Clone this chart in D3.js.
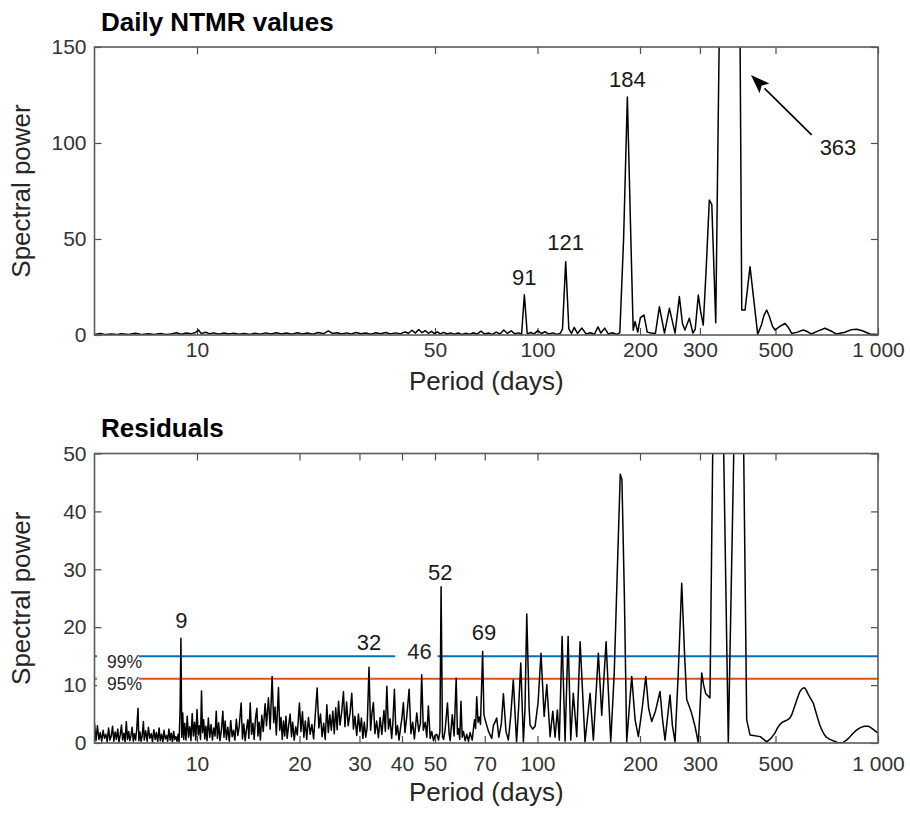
<!DOCTYPE html>
<html>
<head>
<meta charset="utf-8">
<script src="https://cdn.jsdelivr.net/npm/d3@7"></script>
<style>
body { margin: 0; background: #fff; }
text { font-family: "Liberation Sans", Arial, Helvetica, sans-serif; }
</style>
</head>
<body>
<div id="vis"></div>
<script>
// period ticks and power ticks
const dailyTicks = [10, 50, 100, 200, 300, 500, 1000];
const residualTicks = [10, 20, 30, 40, 50, 70, 100, 200, 300, 500, 1000];
const dailyPowerTicks = [0, 50, 100, 150];
const residualPowerTicks = [0, 10, 20, 30, 40, 50];

// [period (days), spectral power]
const dailySeries = [
  [5,0.3],[5.2,0.8],[5.4,0.2],[5.6,0.5],[5.8,0.2],[6.0,0.7],[6.3,0.3],[6.6,0.9],[6.9,0.2],[7.2,0.6],
  [7.5,0.3],[7.8,0.8],[8.1,0.3],[8.4,0.5],[8.7,1.2],[9.0,0.4],[9.3,1.0],[9.6,0.6],[9.9,1.3],[10.1,2.6],
  [10.3,0.7],[10.6,1.4],[10.9,0.6],[11.2,1.1],[11.6,0.4],[12.0,1.0],[12.4,0.5],[12.8,0.9],[13.3,0.4],[13.8,0.8],
  [14.3,0.3],[14.8,0.9],[15.3,0.4],[15.9,1.1],[16.5,0.5],[17.1,1.2],[17.7,0.5],[18.3,1.0],[19.0,0.4],[19.7,1.2],
  [20.4,0.5],[21.1,1.0],[21.9,0.4],[22.7,1.3],[23.5,0.6],[24.3,2.1],[25.0,0.8],[25.8,1.2],[26.6,0.5],[27.5,1.1],
  [28.4,0.5],[29.3,1.3],[30.3,0.6],[31.3,1.0],[32.4,0.4],[33.5,1.2],[34.6,0.6],[35.8,1.3],[37.0,0.5],[38.2,1.1],
  [39.5,0.6],[40.8,1.6],[41.8,0.9],[42.8,2.5],[43.8,1.0],[44.8,2.9],[45.8,1.2],[46.8,2.3],[47.8,0.9],[48.8,1.9],
  [49.8,0.7],[50.8,1.6],[51.8,0.6],[53.0,1.4],[54.3,0.5],[55.6,1.1],[57.0,0.4],[58.5,1.0],[60.0,0.3],[61.6,0.9],
  [63.2,0.3],[64.8,1.2],[66.5,0.4],[68.2,2.0],[70.0,0.5],[71.8,1.0],[73.7,0.3],[75.6,1.5],[77.6,0.5],[79.6,2.6],
  [81.6,0.8],[83.7,2.2],[85.8,0.6],[88.0,1.1],[89.8,0.4],[91.5,21.0],[93.3,0.5],[95.5,1.3],[97.8,0.6],[100.2,2.3],
  [102.6,0.8],[105.2,1.7],[108.0,0.5],[111.0,1.1],[114.0,0.3],[116.6,0.9],[118.4,3.0],[121.0,38.2],[123.6,3.2],[125.8,0.8],
  [128.2,4.0],[131.0,0.8],[135.0,3.6],[139.0,0.5],[143.0,1.2],[147.0,0.4],[150.5,4.2],[153.5,1.0],[157.5,3.6],[161.5,0.5],
  [166.0,1.2],[171.0,0.3],[174.5,1.2],[179.0,50],[183.6,124],[188.0,50],[191.0,2.5],[193.4,7.0],[197.0,1.5],[200.5,9.0],
  [205.5,10.4],[210.0,1.5],[215.5,1.0],[222.0,0.8],[228.0,14.7],[236.0,1.0],[244.0,13.9],[253.5,1.0],[261.0,20.0],[266.5,6.0],
  [271.0,2.6],[279.2,8.7],[286.0,1.0],[290.5,3.0],[296.7,20.8],[301.5,12.0],[306.8,5.2],[313.0,35.0],[319.6,70.3],[325.0,68.0],
  [333.8,6.4],[342.0,160],[352.0,400],[363.0,560],[378.0,400],[393.3,160],[398.0,13.0],[406.9,13.0],[420.9,35.6],[443.3,0.3],
  [455.0,5.5],[463.0,10.5],[471.2,13.0],[480.0,9.5],[490.0,4.5],[498.3,2.6],[515.0,4.5],[533.3,6.0],[545.0,4.0],[558.0,0.8],
  [580.0,1.5],[603.3,2.6],[620.0,1.8],[638.0,0.5],[665.0,2.0],[698.8,3.5],[725.0,2.2],[756.0,0.5],[800.0,1.4],[835.0,2.8],
  [866.0,3.0],[900.0,2.2],[947.1,0.5],[1000,0.3]
];

const residualSeries = [
  [5.0,3.4],[5.05,0.4],[5.1,3.0],[5.15,0.6],[5.2,1.8],[5.25,0.3],[5.3,2.2],[5.35,0.8],[5.4,1.5],[5.45,0.2],
  [5.5,2.6],[5.55,0.5],[5.6,1.2],[5.65,2.9],[5.7,0.3],[5.75,1.9],[5.8,0.6],[5.85,2.4],[5.9,0.2],[5.95,1.4],
  [6.0,3.1],[6.05,0.5],[6.1,1.7],[6.15,0.2],[6.2,3.7],[6.25,0.6],[6.3,2.0],[6.35,0.4],[6.4,1.3],[6.45,2.7],
  [6.5,0.3],[6.55,1.6],[6.6,0.5],[6.65,2.2],[6.71,6.0],[6.75,0.4],[6.8,1.9],[6.85,0.3],[6.9,1.2],[6.96,3.7],
  [7.0,0.5],[7.07,2.1],[7.14,0.3],[7.2,2.7],[7.27,0.8],[7.34,1.6],[7.4,0.2],[7.47,2.3],[7.54,0.6],[7.6,1.8],
  [7.67,0.3],[7.74,2.6],[7.8,0.4],[7.87,1.5],[7.94,0.2],[8.0,2.2],[8.07,0.7],[8.14,1.3],[8.2,0.3],[8.27,2.4],
  [8.34,0.5],[8.4,1.7],[8.47,0.2],[8.54,2.0],[8.6,0.6],[8.67,1.1],[8.74,0.3],[8.8,1.5],[8.86,0.2],[8.92,6.0],
  [8.97,18.1],[9.02,1.0],[9.08,5.2],[9.14,0.6],[9.2,3.4],[9.28,0.5],[9.36,4.6],[9.44,1.0],[9.52,2.8],[9.6,0.4],
  [9.68,5.1],[9.76,1.2],[9.84,3.6],[9.92,0.5],[10.0,5.8],[10.08,1.4],[10.16,3.0],[10.24,0.6],[10.31,9.0],[10.38,1.8],
  [10.46,4.0],[10.54,0.7],[10.62,2.9],[10.7,0.4],[10.8,4.3],[10.9,1.0],[11.0,3.2],[11.1,0.5],[11.2,2.6],[11.3,1.2],
  [11.39,5.5],[11.48,0.8],[11.58,3.5],[11.68,0.4],[11.8,2.4],[11.91,5.5],[12.0,1.0],[12.1,3.8],[12.2,0.6],[12.32,2.7],
  [12.44,0.3],[12.56,3.9],[12.68,1.1],[12.8,2.2],[12.92,0.5],[13.05,4.1],[13.18,1.3],[13.3,2.8],[13.48,6.9],[13.6,0.7],
  [13.72,3.3],[13.85,0.4],[13.98,2.5],[14.1,4.0],[14.2,0.8],[14.33,6.9],[14.46,1.5],[14.6,3.4],[14.72,0.6],[14.85,4.2],
  [14.99,6.0],[15.1,1.2],[15.22,3.6],[15.35,0.5],[15.5,4.8],[15.65,2.0],[15.85,6.8],[16.0,3.0],[16.21,7.8],[16.4,2.4],
  [16.62,11.5],[16.8,3.5],[16.95,6.2],[17.1,1.4],[17.35,9.6],[17.5,2.2],[17.65,4.4],[17.8,0.6],[17.95,3.8],[18.1,1.2],
  [18.25,4.6],[18.4,0.8],[18.6,3.2],[18.77,5.0],[18.95,1.1],[19.1,3.6],[19.3,0.5],[19.5,2.8],[19.7,1.4],[19.99,6.9],
  [20.2,2.0],[20.4,5.4],[20.6,1.0],[20.8,3.8],[21.0,0.6],[21.25,4.4],[21.5,1.5],[21.75,3.2],[22.0,0.7],[22.25,4.8],
  [22.53,9.5],[22.8,2.6],[23.05,5.0],[23.3,1.1],[23.55,3.4],[23.8,0.6],[24.06,6.6],[24.3,1.8],[24.55,4.9],[24.8,2.2],
  [25.05,5.5],[25.3,1.6],[25.55,6.1],[25.8,2.3],[26.05,7.2],[26.3,3.1],[26.6,5.3],[26.92,8.9],[27.2,2.8],[27.5,7.1],
  [27.8,3.0],[28.15,5.2],[28.48,8.6],[28.8,2.4],[29.1,4.6],[29.45,1.3],[29.79,5.0],[30.1,2.0],[30.4,4.3],[30.7,0.8],
  [31.0,3.6],[31.3,1.0],[31.6,2.6],[32.0,13.1],[32.35,2.2],[32.65,5.1],[32.97,7.0],[33.3,1.6],[33.7,3.8],[34.1,0.9],
  [34.5,4.4],[34.9,1.5],[35.4,5.6],[35.75,2.0],[36.1,9.8],[36.5,2.4],[36.9,4.2],[37.3,0.8],[37.6,3.4],[38.0,9.3],
  [38.4,1.4],[38.8,3.0],[39.2,0.5],[39.6,2.6],[40.0,4.4],[40.38,7.0],[40.8,1.8],[41.3,4.5],[41.97,9.3],[42.5,1.6],
  [43.0,3.6],[43.5,0.7],[44.2,5.2],[44.8,2.0],[45.3,3.4],[45.7,11.8],[46.2,2.2],[46.8,3.6],[47.3,1.0],[47.8,6.4],
  [48.4,0.8],[48.9,2.0],[49.5,0.4],[50.0,1.3],[50.6,1.5],[51.2,0.5],[51.7,2.0],[52.1,27.0],[52.6,1.0],[53.0,0.6],
  [53.55,2.3],[54.4,6.9],[55.0,1.6],[55.4,0.4],[56.2,4.9],[56.9,1.2],[57.7,11.2],[58.2,1.5],[58.6,2.5],[59.1,0.6],
  [59.6,7.2],[60.1,1.0],[60.6,2.0],[61.3,0.4],[62.0,1.5],[62.7,0.3],[63.4,1.8],[64.3,0.5],[65.3,4.0],[65.8,2.5],
  [66.3,8.0],[66.9,3.6],[67.4,4.5],[68.0,3.2],[69.0,15.8],[69.6,5.0],[70.2,4.0],[71.8,2.0],[73.4,0.8],[74.2,3.0],
  [75.9,4.3],[77.0,1.0],[78.3,3.3],[79.4,8.5],[80.8,2.0],[82.1,0.5],[83.4,4.5],[84.9,10.9],[86.8,0.2],[88.0,6.0],
  [89.3,13.8],[90.9,0.2],[91.9,6.0],[93.0,22.3],[94.5,6.0],[95.1,3.1],[96.8,2.4],[98.4,2.9],[100.4,7.0],[102.4,15.5],
  [104.6,4.6],[106.5,10.1],[108.9,1.1],[110.9,5.5],[112.6,1.0],[114.4,5.7],[115.9,0.5],[118.1,18.4],[120.5,0.3],[123.0,18.4],
  [125.2,0.5],[127.4,8.6],[130.4,1.1],[133.4,17.5],[137.9,0.2],[142.7,8.6],[145.9,0.5],[150.9,15.5],[154.4,4.8],[159.0,17.5],
  [164.1,0.2],[168.0,12.0],[172.0,32.0],[175.0,46.4],[177.0,45.5],[180.0,25.0],[182.8,0.2],[189.1,11.5],[193.5,4.0],[197.8,1.1],
  [203.0,6.0],[208.0,11.5],[212.0,6.0],[216.5,3.7],[222.0,5.5],[229.0,8.9],[233.0,4.0],[236.9,0.5],[241.0,4.5],[245.0,8.3],
  [249.0,3.0],[253.5,0.2],[259.0,12.0],[265.2,27.6],[270.5,15.0],[274.3,7.5],[282.4,5.5],[290.1,2.9],[296.7,0.0],[303.6,12.1],
  [307.5,10.0],[312.0,8.5],[321.0,7.8],[327.0,50],[340.0,120],[352.3,50],[363.4,0.0],[377.0,50],[390.0,110],[403.3,50],
  [411.5,4.0],[420.9,1.4],[451.0,1.1],[471.0,0.2],[485.0,0.8],[498.0,1.7],[507.0,2.6],[515.0,3.2],[524.0,3.6],[533.0,3.8],
  [542.0,4.0],[551.0,4.3],[558.0,4.9],[565.0,5.8],[574.0,7.0],[583.5,8.2],[590.0,8.9],[597.0,9.3],[604.0,9.5],[610.5,9.5],
  [617.0,9.0],[625.0,8.3],[635.0,7.6],[645.6,6.9],[655.0,5.6],[665.0,4.3],[674.0,3.2],[683.4,2.3],[693.0,1.6],[705.0,1.0],
  [718.0,0.7],[731.0,0.5],[745.0,0.3],[760.0,0.1],[775.0,0.05],[790.8,0.1],[808.0,0.5],[825.0,1.0],[840.0,1.5],[856.0,2.0],
  [873.0,2.4],[890.0,2.7],[912.0,2.9],[936.5,2.9],[955.0,2.6],[970.0,2.3],[985.0,2.0],[1000,1.7]
];

// peak labels: [text, period, power at baseline]
const dailyPeakLabels = [["91", 91.5, 26], ["121", 121, 44.3], ["184", 183.6, 129.2]];
const residualPeakLabels = [["9", 9.0, 19.8], ["32", 32, 16.0], ["52", 51.8, 28.2], ["69", 69.6, 17.8]];
const boxedPeakLabel = ["46", 45.0, 14.5];
// 363-day arrow: tip, tail, label
const annualArrow = [[423.6, 135.4], [638.5, 104.2]];
const annualLabel = ["363", 763, 93.7];

const sigNames = ["99%", "95%"];
const sigValues = [15.0, 11.1];
const sigColors = ["#0072bd", "#d95319"];

const xLeft = 94.5, xRight = 878;
const tickFmt = d => d === 1000 ? "1 000" : String(d);

const svg = d3.select("#vis").append("svg")
    .attr("width", 910)
    .attr("height", 816);

const x = d3.scaleLog().domain([5, 1000]).range([xLeft, xRight]);

function drawPanel(cfg) {
    const y = d3.scaleLinear().domain([0, cfg.yMax]).range([cfg.bottom, cfg.top]);
    const g = svg.append("g").attr("class", "panel-" + cfg.id);

    g.append("clipPath").attr("id", "clip-" + cfg.id)
        .append("rect")
        .attr("x", xLeft).attr("y", cfg.top)
        .attr("width", xRight - xLeft).attr("height", cfg.bottom - cfg.top);

    // axes with inward ticks on all four sides
    const styleAxis = sel => {
        sel.select(".domain").remove();
        sel.selectAll(".tick line").attr("stroke", "#4d4d4d").attr("stroke-width", 1.2);
        sel.selectAll(".tick text").attr("fill", "#333").style("font-size", "21px");
    };
    g.append("g").attr("transform", `translate(0,${cfg.bottom})`)
        .call(d3.axisBottom(x).tickValues(cfg.xTicks).tickFormat(tickFmt).tickSize(-7).tickPadding(cfg.tickPad))
        .call(styleAxis);
    g.append("g").attr("transform", `translate(0,${cfg.top})`)
        .call(d3.axisTop(x).tickValues(cfg.xTicks).tickFormat("").tickSize(-7))
        .call(styleAxis);
    g.append("g").attr("transform", `translate(${xLeft},0)`)
        .call(d3.axisLeft(y).tickValues(cfg.yTicks).tickSize(-7).tickPadding(8))
        .call(styleAxis);
    g.append("g").attr("transform", `translate(${xRight},0)`)
        .call(d3.axisRight(y).tickValues(cfg.yTicks).tickFormat("").tickSize(-7))
        .call(styleAxis);

    const plot = g.append("g").attr("clip-path", `url(#clip-${cfg.id})`);

    if (cfg.sig) {
        plot.selectAll(".sig").data(sigValues).join("line")
            .attr("class", "sig")
            .attr("x1", xLeft).attr("x2", xRight)
            .attr("y1", d => y(d)).attr("y2", d => y(d))
            .attr("stroke", (d, i) => sigColors[i])
            .attr("stroke-width", 2);
    }

    plot.append("path")
        .datum(cfg.series)
        .attr("fill", "none")
        .attr("stroke", "#000")
        .attr("stroke-width", 1.5)
        .attr("stroke-linejoin", "round")
        .attr("d", d3.line().x(d => x(d[0])).y(d => y(d[1])));

    g.append("rect")
        .attr("x", xLeft).attr("y", cfg.top)
        .attr("width", xRight - xLeft).attr("height", cfg.bottom - cfg.top)
        .attr("fill", "none").attr("stroke", "#5a5a5a").attr("stroke-width", 1.6);

    g.selectAll(".peak").data(cfg.labels).join("text")
        .attr("class", "peak")
        .attr("x", d => x(d[1])).attr("y", d => y(d[2]))
        .attr("text-anchor", "middle")
        .attr("fill", "#1a1a1a")
        .style("font-size", "22px")
        .text(d => d[0]);

    g.append("text")
        .attr("x", 101).attr("y", cfg.titleY)
        .attr("fill", "#000")
        .style("font-size", "26px").style("font-weight", "bold")
        .text(cfg.title);

    g.append("text")
        .attr("x", (xLeft + xRight) / 2).attr("y", cfg.bottom + cfg.labelGap)
        .attr("text-anchor", "middle").attr("fill", "#262626")
        .style("font-size", "26px")
        .text("Period (days)");

    g.append("text")
        .attr("transform", `translate(30,${(cfg.top + cfg.bottom) / 2}) rotate(-90)`)
        .attr("text-anchor", "middle").attr("fill", "#262626")
        .style("font-size", "26px")
        .text("Spectral power");

    return {g, y};
}

const dailyPanel = drawPanel({
    id: "daily", title: "Daily NTMR values", top: 47, bottom: 335, yMax: 150,
    yTicks: dailyPowerTicks, xTicks: dailyTicks, series: dailySeries,
    tickPad: 7, labelGap: 55, titleY: 31, labels: dailyPeakLabels, sig: false
});

const residPanel = drawPanel({
    id: "resid", title: "Residuals", top: 453.5, bottom: 743, yMax: 50,
    yTicks: residualPowerTicks, xTicks: residualTicks, series: residualSeries,
    tickPad: 13.5, labelGap: 58, titleY: 437, labels: residualPeakLabels, sig: true
});

// arrow pointing at the clipped annual peak
const tip = [x(annualArrow[0][0]), dailyPanel.y(annualArrow[0][1])];
const tail = [x(annualArrow[1][0]), dailyPanel.y(annualArrow[1][1])];
const ang = Math.atan2(tip[1] - tail[1], tip[0] - tail[0]);
const headLen = 19, headW = 7;
const base = [tip[0] - headLen * Math.cos(ang), tip[1] - headLen * Math.sin(ang)];
dailyPanel.g.append("line")
    .attr("x1", tail[0]).attr("y1", tail[1])
    .attr("x2", base[0]).attr("y2", base[1])
    .attr("stroke", "#000").attr("stroke-width", 1.6);
dailyPanel.g.append("path")
    .attr("d", `M${tip[0]},${tip[1]}L${base[0] + headW * Math.sin(ang)},${base[1] - headW * Math.cos(ang)}L${base[0] + 4 * Math.cos(ang)},${base[1] + 4 * Math.sin(ang)}L${base[0] - headW * Math.sin(ang)},${base[1] + headW * Math.cos(ang)}Z`)
    .attr("fill", "#000");
dailyPanel.g.append("text")
    .attr("x", x(annualLabel[1])).attr("y", dailyPanel.y(annualLabel[2]))
    .attr("text-anchor", "middle").attr("fill", "#1a1a1a")
    .style("font-size", "22px")
    .text(annualLabel[0]);

// labels with white background
function boxedText(g, txt, px, py, size, padL, padR, anchor) {
    const t = g.append("text")
        .attr("x", px).attr("y", py)
        .attr("text-anchor", anchor)
        .attr("fill", "#262626")
        .style("font-size", size + "px")
        .text(txt);
    const bb = t.node().getBBox();
    g.insert("rect", () => t.node())
        .attr("x", bb.x - padL).attr("y", bb.y - 1)
        .attr("width", bb.width + padL + padR).attr("height", bb.height + 2)
        .attr("fill", "#fff");
    return t;
}

sigNames.forEach((name, i) => {
    boxedText(residPanel.g, name, 107, residPanel.y(sigValues[i]) + 11.5, 17.5, 10, -3, "start");
});
boxedText(residPanel.g, boxedPeakLabel[0], x(boxedPeakLabel[1]), residPanel.y(boxedPeakLabel[2]), 22, 12, 6, "middle");
</script>
</body>
</html>
